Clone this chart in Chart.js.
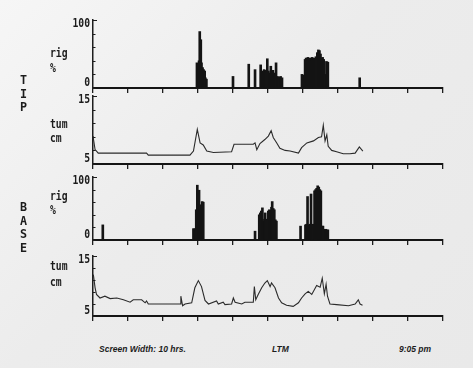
<!DOCTYPE html>
<html>
<head>
<meta charset="utf-8">
<script src="https://cdn.jsdelivr.net/npm/chart.js@4.4.1/dist/chart.umd.min.js"></script>
<style>
    html, body { margin: 0; padding: 0; }
    #wrap {
        position: relative;
        width: 473px;
        height: 368px;
        overflow: hidden;
        background: linear-gradient(135deg, #f6f6f6 0%, #ececec 45%, #e9e9e9 100%);
    }
    canvas { position: absolute; left: 0; }
    .lbl {
        position: absolute;
        font: bold 13px "DejaVu Sans Mono", monospace;
        line-height: 13px;
        color: #1c1c1c;
        transform: scaleX(0.75);
        transform-origin: left top;
        white-space: pre;
    }
    .side {
        position: absolute;
        font: bold 13px "DejaVu Sans Mono", monospace;
        line-height: 13.6px;
        color: #1c1c1c;
        width: 10px;
        text-align: center;
        transform: scaleX(0.9);
        transform-origin: left top;
    }
    .foot {
        position: absolute;
        top: 344px;
        font: italic bold 8.5px "Liberation Sans", Arial, sans-serif;
        color: #1c1c1c;
        white-space: pre;
    }
</style>
</head>
<body>
<div id="wrap">
    <canvas id="tipRig" width="473" height="84" style="top:10px"></canvas>
    <canvas id="tipTum" width="473" height="84" style="top:86px"></canvas>
    <canvas id="baseRig" width="473" height="79" style="top:167px"></canvas>
    <canvas id="baseTum" width="473" height="76" style="top:246px"></canvas>

    <div class="side" style="left:19px; top:73px">T<br>I<br>P</div>
    <div class="side" style="left:19px; top:200px">B<br>A<br>S<br>E</div>

    <div class="lbl" style="left:50px; top:46px">rig</div>
    <div class="lbl" style="left:50px; top:61px">%</div>
    <div class="lbl" style="left:50px; top:117px">tum</div>
    <div class="lbl" style="left:50px; top:131px">cm</div>
    <div class="lbl" style="left:50px; top:189px">rig</div>
    <div class="lbl" style="left:50px; top:203px">%</div>
    <div class="lbl" style="left:50px; top:259px">tum</div>
    <div class="lbl" style="left:50px; top:275px">cm</div>

    <div class="foot" style="left:99px">Screen Width: 10 hrs.</div>
    <div class="foot" style="left:272px">LTM</div>
    <div class="foot" style="left:399px">9:05 pm</div>
</div>

<script>
// ---- data (hours since start of recording) ----

const tipRigTimes = [2.97, 3.00, 3.03, 3.05, 3.08, 3.10, 3.13, 3.16, 3.19, 3.21, 3.24,
    4.00, 4.45, 4.63,
    4.79, 4.83, 4.86, 4.89, 4.91, 4.94, 4.98, 5.01, 5.04, 5.08, 5.11, 5.14, 5.17, 5.20, 5.23, 5.27, 5.31, 5.36, 5.40,
    5.97, 6.01, 6.06, 6.09, 6.11, 6.14, 6.17, 6.20, 6.23, 6.26, 6.29, 6.31, 6.34, 6.37, 6.41, 6.44, 6.47, 6.50, 6.53, 6.56, 6.59, 6.63, 6.67, 6.71,
    7.62];
const tipRigValues = [37, 35, 40, 83, 71, 37, 30, 27, 25, 15, 13,
    17, 35, 27,
    34, 25, 22, 27, 24, 26, 43, 25, 22, 32, 24, 26, 22, 20, 37, 17, 16, 17, 15,
    20, 19, 42, 44, 40, 45, 43, 44, 40, 45, 42, 44, 43, 46, 52, 56, 55, 50, 44, 45, 42, 20, 39, 38,
    15];

const tipTumTimes = [0.00, 0.06, 0.10, 0.15, 1.53, 1.58, 2.77, 2.87, 2.98, 3.06, 3.15, 3.25, 3.44, 3.96, 4.03,
    4.58, 4.63, 4.68, 4.77, 4.91, 5.01, 5.09, 5.15, 5.25, 5.34, 5.49, 5.63, 5.87, 5.96, 6.11, 6.30,
    6.44, 6.53, 6.58, 6.63, 6.68, 6.72, 6.82, 6.96, 7.15, 7.34, 7.49, 7.61, 7.71];
const tipTumValues = [9.1, 7.1, 6.9, 6.6, 6.6, 6.3, 6.3, 6.9, 10.1, 8.1, 7.8, 6.9, 6.7, 6.8, 7.9,
    7.9, 8.1, 7.1, 8.0, 8.6, 9.1, 9.9, 8.9, 8.1, 7.3, 7.0, 6.9, 6.6, 7.4, 8.1, 8.4,
    8.9, 9.0, 10.7, 8.4, 9.3, 7.6, 7.0, 6.8, 6.5, 6.5, 6.6, 7.5, 6.9];

const baseRigTimes = [0.28,
    2.87, 2.91, 2.95, 2.98, 3.01, 3.03, 3.06, 3.09, 3.12, 3.15,
    4.63,
    4.75, 4.78, 4.81, 4.84, 4.87, 4.90, 4.92, 4.95, 4.98, 5.01, 5.04, 5.07, 5.10, 5.12, 5.15, 5.18, 5.21, 5.24,
    5.93,
    6.07, 6.10, 6.13, 6.17, 6.20, 6.23, 6.26, 6.29, 6.33, 6.36, 6.39, 6.42, 6.45, 6.48, 6.51, 6.55, 6.57, 6.61, 6.65, 6.69, 6.71];
const baseRigValues = [24,
    18, 18, 48, 87, 50, 79, 56, 50, 61, 60,
    14,
    40, 43, 46, 51, 30, 33, 43, 33, 32, 46, 48, 47, 52, 61, 50, 48, 32, 30,
    22,
    24, 25, 69, 24, 25, 73, 24, 25, 78, 80, 82, 86, 84, 80, 78, 22, 22, 17, 17, 16, 16];

const baseTumTimes = [0.01, 0.06, 0.10, 0.20, 0.34, 0.49, 0.68, 0.87, 1.06, 1.15,
    1.39, 1.49, 1.53, 1.58, 2.49, 2.51, 2.56, 2.63, 2.82, 2.91,
    3.01, 3.10, 3.20, 3.30, 3.53, 3.58, 3.72, 3.77, 3.96, 4.01,
    4.06, 4.25, 4.34, 4.58, 4.61, 4.65, 4.72, 4.82, 4.91, 4.98,
    5.06, 5.10, 5.20, 5.30, 5.39, 5.53, 5.72, 5.87, 5.96, 6.06,
    6.15, 6.25, 6.39, 6.49, 6.55, 6.61, 6.66, 6.70, 6.77, 6.96,
    7.30, 7.49, 7.58, 7.63, 7.70];
const baseTumValues = [11.9, 9.7, 8.6, 8.0, 8.3, 7.9, 8.0, 7.7, 7.3, 7.7,
    7.7, 7.2, 7.5, 7.0, 7.0, 8.3, 6.7, 7.0, 7.2, 9.7,
    10.9, 9.9, 7.6, 7.0, 7.5, 7.0, 7.3, 6.9, 7.0, 8.0,
    7.3, 7.0, 7.3, 7.3, 9.9, 7.7, 8.6, 9.7, 10.5, 10.9,
    9.9, 10.5, 9.7, 8.0, 7.2, 6.8, 6.6, 7.2, 8.0, 8.7,
    9.1, 8.6, 10.1, 9.8, 11.3, 8.7, 10.3, 8.3, 7.0, 6.9,
    6.7, 7.0, 7.7, 7.0, 6.8];

const rigTickLabels = ["0", "100"];
const tumTickLabels = ["5", "15"];
const screenHours = 10;

// ---- axis end labels + inner y tick marks ----

const endLabels = {
    id: "endLabels",
    afterDraw(chart, args, opts) {
        const s = chart.scales.y;
        const ctx = chart.ctx;
        ctx.save();
        ctx.strokeStyle = "#1e1e1e";
        ctx.lineWidth = 1.2;
        ctx.beginPath();
        s.ticks.forEach((t) => {
            const py = Math.round(s.getPixelForValue(t.value)) + 0.5;
            ctx.moveTo(s.right, py);
            ctx.lineTo(s.right + (t.value === s.max ? 4 : 2.5), py);
        });
        ctx.stroke();

        ctx.fillStyle = "#1c1c1c";
        ctx.font = 'bold 13px "DejaVu Sans Mono", monospace';
        ctx.textAlign = "right";
        const put = (txt, y, base) => {
            ctx.save();
            ctx.translate(s.right - 3, y);
            ctx.scale(0.75, 1);
            ctx.textBaseline = base;
            ctx.fillText(txt, 0, 0);
            ctx.restore();
        };
        put(opts.labels[1], s.top - 3, "top");
        put(opts.labels[0], s.bottom + 1, "bottom");
        ctx.restore();
    }
};

function pairs(times, values) {
    return times.map((t, i) => ({ x: t, y: values[i] }));
}

function makeChart(id, type, times, values, range, step, labels) {
    const ds = type === "bar"
        ? { data: pairs(times, values), backgroundColor: "#141414", barThickness: 2 }
        : { data: pairs(times, values), borderColor: "#2b2b2b", borderWidth: 1.1,
            pointRadius: 0, tension: 0, fill: false };

    return new Chart(document.getElementById(id), {
        type: type,
        data: { datasets: [ds] },
        options: {
            responsive: false,
            animation: false,
            events: [],
            layout: { padding: { top: 10, right: 30, left: 0, bottom: 0 } },
            plugins: {
                legend: { display: false },
                tooltip: { enabled: false },
                endLabels: { labels: labels }
            },
            scales: {
                x: {
                    type: "linear",
                    min: 0,
                    max: screenHours,
                    offset: false,
                    ticks: { stepSize: 1, display: false },
                    grid: { offset: false, drawOnChartArea: false, tickLength: 5,
                            color: "#1e1e1e", lineWidth: 1.3 },
                    border: { display: true, color: "#151515", width: 2 },
                    afterFit: (scale) => { scale.height = 6; }
                },
                y: {
                    min: range[0],
                    max: range[1],
                    ticks: { stepSize: step, display: false },
                    grid: { drawOnChartArea: false, drawTicks: false },
                    border: { display: true, color: "#1e1e1e", width: 1.5 },
                    afterFit: (scale) => { scale.width = 93; }
                }
            }
        },
        plugins: [endLabels]
    });
}

makeChart("tipRig", "bar", tipRigTimes, tipRigValues, [0, 100], 20, rigTickLabels);
makeChart("tipTum", "line", tipTumTimes, tipTumValues, [5, 15], 2, tumTickLabels);
makeChart("baseRig", "bar", baseRigTimes, baseRigValues, [0, 100], 20, rigTickLabels);
makeChart("baseTum", "line", baseTumTimes, baseTumValues, [5, 15], 2, tumTickLabels);
</script>
</body>
</html>
